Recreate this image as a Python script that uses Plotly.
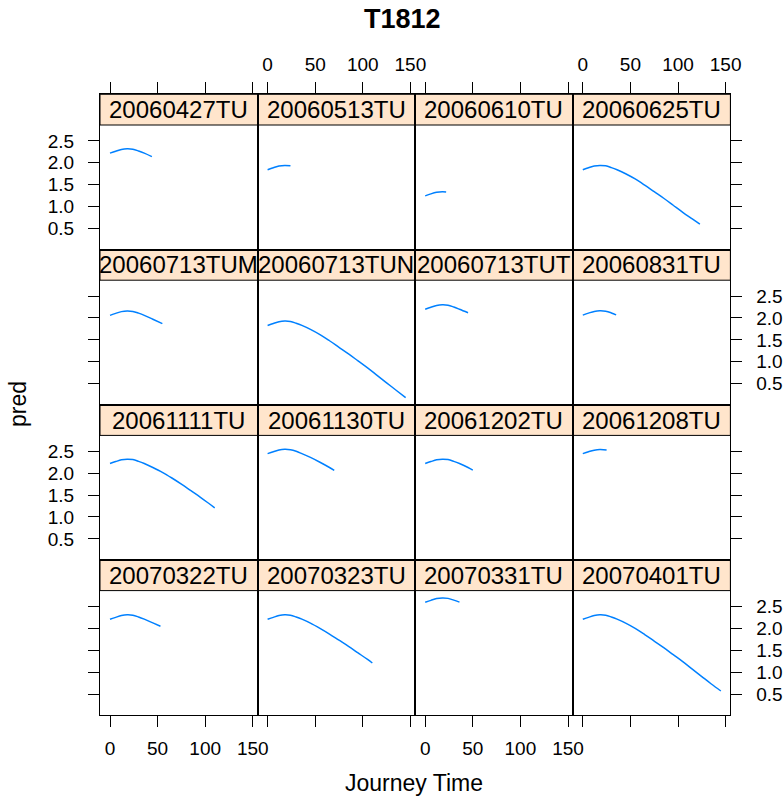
import plotly.graph_objects as go

W, H = 784, 798

panel_names = [
    "20060427TU", "20060513TU", "20060610TU", "20060625TU",
    "20060713TUM", "20060713TUN", "20060713TUT", "20060831TU",
    "20061111TU", "20061130TU", "20061202TU", "20061208TU",
    "20070322TU", "20070323TU", "20070331TU", "20070401TU",
]

x_20060427TU = [0, 6, 12, 18, 24, 30, 36, 44]
y_20060427TU = [2.22, 2.265, 2.305, 2.32, 2.31, 2.27, 2.22, 2.14]

x_20060513TU = [0, 6, 12, 18, 24]
y_20060513TU = [1.84, 1.885, 1.925, 1.94, 1.93]

x_20060610TU = [0, 6, 12, 18, 22]
y_20060610TU = [1.245, 1.29, 1.325, 1.34, 1.335]

x_20060625TU = [0, 6, 12, 18, 24, 30, 36, 45, 55, 65, 75, 85, 95, 105, 115, 123]
y_20060625TU = [1.84, 1.885, 1.925, 1.94, 1.93, 1.89, 1.84, 1.75, 1.63, 1.49, 1.34, 1.19, 1.03, 0.87, 0.72, 0.60]

x_20060713TUM = [0, 6, 12, 18, 24, 30, 36, 45, 55]
y_20060713TUM = [2.06, 2.105, 2.145, 2.16, 2.15, 2.11, 2.06, 1.97, 1.87]

x_20060713TUN = [0, 6, 12, 18, 24, 30, 36, 45, 55, 65, 75, 85, 95, 105, 115, 125, 135, 145]
y_20060713TUN = [1.83, 1.875, 1.915, 1.93, 1.92, 1.88, 1.83, 1.74, 1.62, 1.48, 1.33, 1.18, 1.02, 0.86, 0.69, 0.52, 0.35, 0.18]

x_20060713TUT = [0, 6, 12, 18, 24, 30, 36, 45]
y_20060713TUT = [2.20, 2.245, 2.285, 2.30, 2.29, 2.25, 2.20, 2.12]

x_20060831TU = [0, 6, 12, 18, 24, 30, 35]
y_20060831TU = [2.066, 2.11, 2.15, 2.165, 2.155, 2.115, 2.07]

x_20061111TU = [0, 6, 12, 18, 24, 30, 36, 45, 55, 65, 75, 85, 95, 105, 110]
y_20061111TU = [2.22, 2.265, 2.305, 2.32, 2.31, 2.27, 2.22, 2.13, 2.02, 1.89, 1.75, 1.60, 1.45, 1.29, 1.21]

x_20061130TU = [0, 6, 12, 18, 24, 30, 36, 45, 55, 65, 70]
y_20061130TU = [2.447, 2.49, 2.53, 2.545, 2.535, 2.50, 2.447, 2.36, 2.25, 2.13, 2.065]

x_20061202TU = [0, 6, 12, 18, 24, 30, 36, 45, 50]
y_20061202TU = [2.22, 2.265, 2.305, 2.32, 2.31, 2.27, 2.22, 2.13, 2.07]

x_20061208TU = [0, 6, 12, 18, 25]
y_20061208TU = [2.447, 2.49, 2.525, 2.54, 2.53]

x_20070322TU = [0, 6, 12, 18, 24, 30, 36, 45, 53]
y_20070322TU = [2.207, 2.252, 2.292, 2.31, 2.30, 2.26, 2.21, 2.125, 2.05]

x_20070323TU = [0, 6, 12, 18, 24, 30, 36, 45, 55, 65, 75, 85, 95, 105, 110]
y_20070323TU = [2.207, 2.252, 2.292, 2.31, 2.30, 2.26, 2.21, 2.12, 2.00, 1.87, 1.73, 1.59, 1.44, 1.29, 1.21]

x_20070331TU = [0, 6, 12, 18, 24, 30, 36]
y_20070331TU = [2.596, 2.64, 2.68, 2.695, 2.685, 2.645, 2.60]

x_20070401TU = [0, 6, 12, 18, 24, 30, 36, 45, 55, 65, 75, 85, 95, 105, 115, 125, 135, 145]
y_20070401TU = [2.207, 2.252, 2.292, 2.31, 2.30, 2.26, 2.21, 2.12, 2.00, 1.86, 1.71, 1.56, 1.40, 1.24, 1.07, 0.90, 0.73, 0.57]

series_x = [x_20060427TU, x_20060513TU, x_20060610TU, x_20060625TU,
            x_20060713TUM, x_20060713TUN, x_20060713TUT, x_20060831TU,
            x_20061111TU, x_20061130TU, x_20061202TU, x_20061208TU,
            x_20070322TU, x_20070323TU, x_20070331TU, x_20070401TU]
series_y = [y_20060427TU, y_20060513TU, y_20060610TU, y_20060625TU,
            y_20060713TUM, y_20060713TUN, y_20060713TUT, y_20060831TU,
            y_20061111TU, y_20061130TU, y_20061202TU, y_20061208TU,
            y_20070322TU, y_20070323TU, y_20070331TU, y_20070401TU]

x_tickvals = [0, 50, 100, 150]
x_ticktext = ["0", "50", "100", "150"]
y_tickvals = [0.5, 1.0, 1.5, 2.0, 2.5]
y_ticktext = ["0.5", "1.0", "1.5", "2.0", "2.5"]

FONT = "Liberation Sans, Arial, Helvetica, sans-serif"
LINE_COL = "#0080ff"
STRIP_COL = "#ffe5cc"

# geometry (pixels)
col_left = 100.0
col_w = 157.6
row_top = 94.3
row_h = 155.2
strip_h = 30.7
px_per_x = 0.952
px_per_y = 43.8
y_bottom_val = 0.02
x_min = -10.0 / px_per_x
x_max = (col_w - 10.0) / px_per_x
y_top_val = y_bottom_val + row_h / px_per_y


def fx(p):
    return p / W


def fy(p):
    return 1 - p / H


fig = go.Figure()
layout = {}
shapes = []
annotations = []

for i, name in enumerate(panel_names):
    r, c = divmod(i, 4)
    k = i + 1
    xa = "xaxis" if k == 1 else f"xaxis{k}"
    ya = "yaxis" if k == 1 else f"yaxis{k}"
    xr = "x" if k == 1 else f"x{k}"
    yr = "y" if k == 1 else f"y{k}"
    L = col_left + c * col_w
    R = L + col_w
    T = row_top + r * row_h
    B = T + row_h

    fig.add_trace(go.Scatter(x=series_x[i], y=series_y[i], mode="lines",
                             line=dict(color=LINE_COL, width=1.5, shape="spline", smoothing=1.0),
                             xaxis=xr, yaxis=yr, showlegend=False, hoverinfo="skip"))

    xcfg = dict(domain=[fx(L), fx(R)], range=[x_min, x_max], anchor=yr,
                showgrid=False, zeroline=False, showline=True, mirror=True,
                linecolor="black", linewidth=1, tickvals=x_tickvals, ticktext=x_ticktext,
                tickfont=dict(family=FONT, size=19, color="black"),
                fixedrange=True, automargin=False)
    if r == 0:
        xcfg.update(side="top", ticks="outside", ticklen=11, tickcolor="black",
                    showticklabels=(c in (1, 3)), ticklabelstandoff=4)
    elif r == 3:
        xcfg.update(side="bottom", ticks="outside", ticklen=11, tickcolor="black",
                    showticklabels=(c in (0, 2)), ticklabelstandoff=5)
    else:
        xcfg.update(ticks="", showticklabels=False)
    layout[xa] = xcfg

    ycfg = dict(domain=[fy(B), fy(T)], range=[y_bottom_val, y_top_val], anchor=xr,
                showgrid=False, zeroline=False, showline=True, mirror=True,
                linecolor="black", linewidth=1, tickvals=y_tickvals, ticktext=y_ticktext,
                tickfont=dict(family=FONT, size=19, color="black"),
                fixedrange=True, automargin=False)
    if c == 0:
        ycfg.update(side="left", ticks="outside", ticklen=11, tickcolor="black",
                    showticklabels=(r in (0, 2)), ticklabelstandoff=10)
    elif c == 3:
        ycfg.update(side="right", ticks="outside", ticklen=11, tickcolor="black",
                    showticklabels=(r in (1, 3)), ticklabelstandoff=10)
    else:
        ycfg.update(ticks="", showticklabels=False)
    layout[ya] = ycfg

    shapes.append(dict(type="rect", xref="paper", yref="paper",
                       x0=fx(L), x1=fx(R), y0=fy(T + strip_h), y1=fy(T),
                       fillcolor=STRIP_COL, line=dict(color="black", width=1), layer="below"))
    annotations.append(dict(text=name, xref="paper", yref="paper",
                            x=fx((L + R) / 2), y=fy(T + strip_h / 2),
                            xanchor="center", yanchor="middle", showarrow=False,
                            font=dict(family=FONT, size=24, color="black")))

annotations.append(dict(text="<b>T1812</b>", xref="paper", yref="paper",
                        x=fx(402), y=fy(19), xanchor="center", yanchor="middle",
                        showarrow=False, font=dict(family=FONT, size=27, color="black")))
annotations.append(dict(text="Journey Time", xref="paper", yref="paper",
                        x=fx(414), y=fy(783), xanchor="center", yanchor="middle",
                        showarrow=False, font=dict(family=FONT, size=23, color="black")))
annotations.append(dict(text="pred", xref="paper", yref="paper",
                        x=fx(18), y=fy(404), xanchor="center", yanchor="middle",
                        textangle=-90, showarrow=False,
                        font=dict(family=FONT, size=23, color="black")))

fig.update_layout(width=W, height=H, margin=dict(l=0, r=0, t=0, b=0, autoexpand=False),
                  paper_bgcolor="white", plot_bgcolor="white",
                  shapes=shapes, annotations=annotations, showlegend=False, **layout)

fig.write_html("out.html")
